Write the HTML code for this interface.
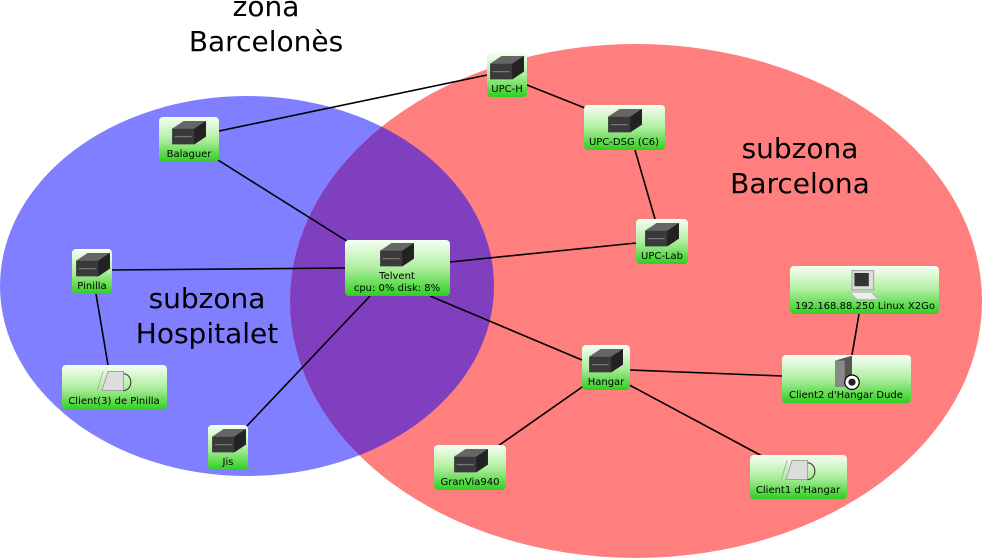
<!DOCTYPE html>
<html><head><meta charset="utf-8"><style>
body{margin:0;background:#fff;}
svg{display:block;font-family:"DejaVu Sans","Liberation Sans",sans-serif;}
.n{fill:url(#g);}
.l{font-size:10px;fill:#000;text-anchor:middle;}
.big{font-size:28px;fill:#000;text-anchor:middle;}
line{stroke:#000;stroke-width:1.6;}
</style></head><body>
<svg width="983" height="559" viewBox="0 0 983 559">
<defs>
<linearGradient id="g" x1="0" y1="0" x2="0" y2="1"><stop offset="0" stop-color="#f6fff4"/><stop offset="0.5" stop-color="#b0eea0"/><stop offset="1" stop-color="#2ecf1f"/></linearGradient>
<clipPath id="cb"><ellipse cx="247" cy="286" rx="247" ry="190"/></clipPath>
<g id="srv" transform="scale(1.3)"><path d="M-13,-4 L-4,-10 L13,-10 L13,2 L4,8 L-13,8 Z" fill="#3a3a3a"/><path d="M-13,-4 L-4,-10 L13,-10 L4,-4 Z" fill="#666"/><path d="M4,-4 L13,-10 L13,2 L4,8 Z" fill="#222"/><line x1="-11" y1="2" x2="2" y2="2" style="stroke:#777;stroke-width:1"/></g>
<g id="cli" transform="scale(1.2)"><path d="M-10,8 L-5,-8 L8,-8 L8,8 Z" fill="#ddd" stroke="#999" stroke-width="0.7"/><path d="M8,-6 A6,7 0 0 1 8,8" fill="none" stroke="#444" stroke-width="1"/><line x1="-14" y1="8" x2="-9" y2="-8" style="stroke:#aaa;stroke-width:0.8"/></g>
</defs>
<ellipse cx="247" cy="286" rx="247" ry="190" fill="#7f7fff"/>
<ellipse cx="636" cy="301" rx="346" ry="257" fill="#ff7f7f"/>
<ellipse cx="636" cy="301" rx="346" ry="257" fill="#7f3fbf" clip-path="url(#cb)"/>
<text class="big" x="266" y="16">zona</text>
<text class="big" x="266" y="51">Barcelonès</text>
<text class="big" x="800" y="158">subzona</text>
<text class="big" x="800" y="193">Barcelona</text>
<text class="big" x="207" y="308">subzona</text>
<text class="big" x="207" y="343">Hospitalet</text>
<line x1="219" y1="131" x2="487" y2="75"/>
<line x1="527" y1="85" x2="590" y2="110"/>
<line x1="635" y1="150" x2="655" y2="219"/>
<line x1="210" y1="155" x2="350" y2="243"/>
<line x1="112" y1="270" x2="345" y2="268"/>
<line x1="450" y1="262" x2="636" y2="243"/>
<line x1="430" y1="296" x2="582" y2="360"/>
<line x1="370" y1="296" x2="245" y2="428"/>
<line x1="96" y1="294" x2="108" y2="365"/>
<line x1="630" y1="370" x2="782" y2="376"/>
<line x1="585" y1="385" x2="498" y2="446"/>
<line x1="620" y1="380" x2="762" y2="456"/>
<line x1="859" y1="314" x2="852" y2="355"/>

<rect class="n" x="487" y="52" width="40" height="45" rx="4"/><use href="#srv" x="507" y="69"/><text class="l" x="507" y="92">UPC-H</text>
<rect class="n" x="159" y="117" width="60" height="45" rx="4"/><use href="#srv" x="189" y="134"/><text class="l" x="189" y="157">Balaguer</text>
<rect class="n" x="584" y="105" width="81" height="45" rx="4"/><use href="#srv" x="625" y="122"/><text class="l" x="624" y="145">UPC-DSG (C6)</text>
<rect class="n" x="636" y="219" width="52" height="45" rx="4"/><use href="#srv" x="662" y="236"/><text class="l" x="662" y="259">UPC-Lab</text>
<rect class="n" x="345" y="240" width="105" height="56" rx="4"/><use href="#srv" x="397" y="256"/><text class="l" x="397" y="279">Telvent</text><text class="l" x="397" y="291">cpu: 0% disk: 8%</text>
<rect class="n" x="72" y="249" width="40" height="45" rx="4"/><use href="#srv" x="93" y="266"/><text class="l" x="92" y="289">Pinilla</text>
<rect class="n" x="790" y="266" width="149" height="48" rx="4"/>
<g transform="translate(864,285) scale(1.2)"><rect x="-10" y="-12" width="18" height="16" fill="#ddd" stroke="#aaa"/><rect x="-8" y="-10" width="12" height="11" fill="#333"/><path d="M-12,6 L6,6 L12,12 L-6,12 Z" fill="#eee" stroke="#bbb"/></g>
<text class="l" x="865" y="309">192.168.88.250 Linux X2Go</text>
<rect class="n" x="582" y="345" width="48" height="45" rx="4"/><use href="#srv" x="606" y="362"/><text class="l" x="606" y="385">Hangar</text>
<rect class="n" x="782" y="355" width="129" height="48" rx="4"/>
<g transform="translate(846,375) scale(1.2)"><path d="M-9,-12 L5,-16 L5,6 L-9,10 Z" fill="#555"/><rect x="-9" y="-12" width="8" height="22" fill="#888"/><circle cx="5" cy="6" r="6" fill="#fff" stroke="#000"/><circle cx="5" cy="6" r="3" fill="#222"/></g>
<text class="l" x="846" y="398">Client2 d'Hangar Dude</text>
<rect class="n" x="62" y="365" width="105" height="45" rx="4"/><use href="#cli" x="114" y="381"/><text class="l" x="114" y="404">Client(3) de Pinilla</text>
<rect class="n" x="208" y="425" width="40" height="45" rx="4"/><use href="#srv" x="229" y="442"/><text class="l" x="228" y="465">Jis</text>
<rect class="n" x="434" y="445" width="72" height="45" rx="4"/><use href="#srv" x="471" y="462"/><text class="l" x="470" y="485">GranVia940</text>
<rect class="n" x="750" y="455" width="97" height="44" rx="4"/><use href="#cli" x="798" y="470"/><text class="l" x="798" y="493">Client1 d'Hangar</text>
</svg>
</body></html>
